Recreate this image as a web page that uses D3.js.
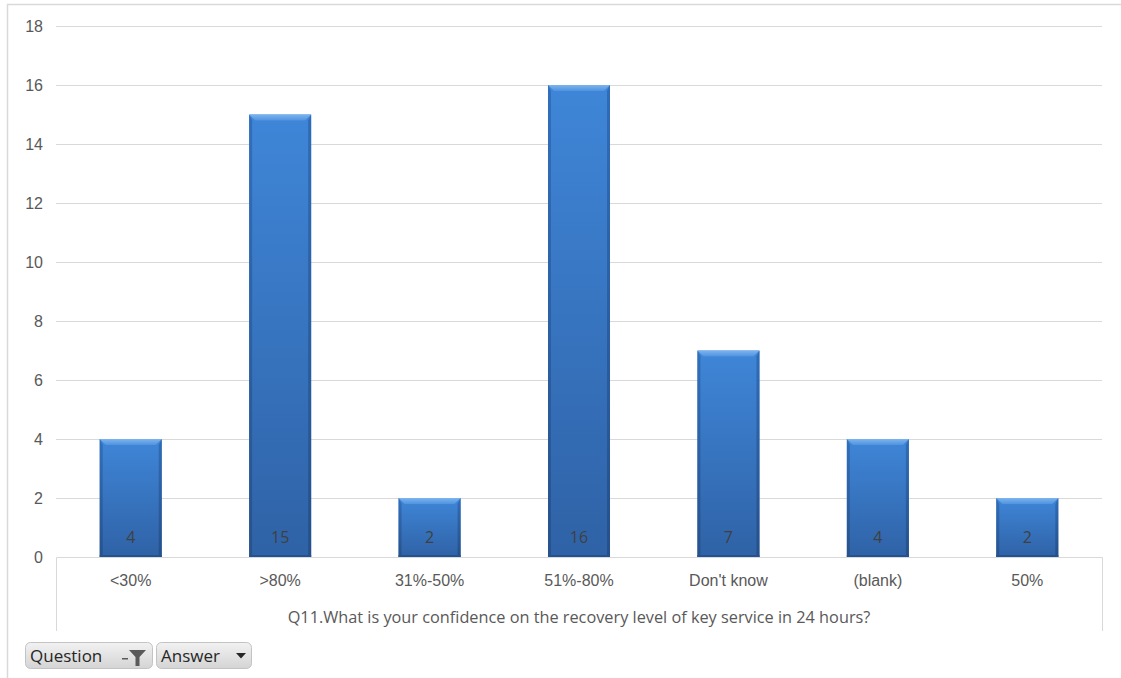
<!DOCTYPE html>
<html>
<head>
<meta charset="utf-8">
<script src="https://cdn.jsdelivr.net/npm/d3@7/dist/d3.min.js"></script>
<style>
  html, body { margin: 0; padding: 0; background: #fff; }
  svg { display: block; font-family: "Open Sans", "Noto Sans", sans-serif; }
</style>
</head>
<body>
<svg id="chart" width="1121" height="678"></svg>
<script>
// Survey answers and their counts
const categories = ["<30%", ">80%", "31%-50%", "51%-80%", "Don't know", "(blank)", "50%"];
const counts = [4, 15, 2, 16, 7, 4, 2];
const yTicks = [0, 2, 4, 6, 8, 10, 12, 14, 16, 18];
const axisTitle = "Q11.What is your confidence on the recovery level of key service in 24 hours?";
const buttons = ["Question", "Answer"];

const svg = d3.select("#chart");
const W = 1121, H = 678;
const plot = { left: 56, right: 1102, top: 26, bottom: 557 };

// Outer chart frame
svg.append("path")
  .attr("d", `M7.5,${H} V4.5 H${W}`)
  .attr("fill", "none").attr("stroke", "#d9d9d9").attr("stroke-width", 1.5);

const x = d3.scaleBand().domain(categories).range([plot.left, plot.right]).paddingInner(0.585).paddingOuter(0.2925);
const y = d3.scaleLinear().domain([0, 18]).range([plot.bottom, plot.top]);

// Gridlines
svg.append("g").selectAll("line").data(yTicks.filter(d => d > 0)).join("line")
  .attr("x1", plot.left).attr("x2", plot.right)
  .attr("y1", d => Math.round(y(d)) + 0.5).attr("y2", d => Math.round(y(d)) + 0.5)
  .attr("stroke", "#d9d9d9").attr("stroke-width", 1);

// Y axis labels
const yAxis = d3.axisLeft(y).tickValues(yTicks).tickSize(0).tickPadding(0);
const gy = svg.append("g").attr("transform", "translate(43,0)").call(yAxis);
gy.select(".domain").remove();
gy.selectAll("text").attr("fill", "#595959").style("font-size", "16px")
  .attr("x", 0).attr("text-anchor", "end").attr("dy", "0.35em");

// Category axis box
svg.append("path")
  .attr("d", `M${plot.left + 0.5},631 V${plot.bottom + 0.5} H${plot.right + 0.5} V631`)
  .attr("fill", "none").attr("stroke", "#d9d9d9").attr("stroke-width", 1);

const xAxis = d3.axisBottom(x).tickSize(0).tickPadding(0);
const gx = svg.append("g").attr("transform", `translate(0,${plot.bottom})`).call(xAxis);
gx.select(".domain").remove();
gx.selectAll("text").attr("fill", "#595959").style("font-size", "16px").attr("y", 23).attr("dy", "0.35em");

svg.append("text")
  .attr("x", (plot.left + plot.right) / 2).attr("y", 617)
  .attr("text-anchor", "middle").attr("dy", "0.35em")
  .attr("fill", "#595959").style("font-size", "16.3px")
  .text(axisTitle);

// Bar gradients
const defs = svg.append("defs");
const g1 = defs.append("linearGradient").attr("id", "barFill").attr("x1", 0).attr("y1", 0).attr("x2", 0).attr("y2", 1);
g1.append("stop").attr("offset", "0%").attr("stop-color", "#3f86d8");
g1.append("stop").attr("offset", "100%").attr("stop-color", "#2f62a6");
const gSide = defs.append("linearGradient").attr("id", "sideFill").attr("x1", 0).attr("y1", 0).attr("x2", 0).attr("y2", 1);
gSide.append("stop").attr("offset", "0%").attr("stop-color", "#2f6bb5");
gSide.append("stop").attr("offset", "100%").attr("stop-color", "#254f88");

const data = categories.map((c, i) => ({ c, v: counts[i] }));
const bw = x.bandwidth();
const bev = 6, side = 3;

const bars = svg.append("g").selectAll("g").data(data).join("g");
bars.append("rect")
  .attr("x", d => x(d.c)).attr("y", d => y(d.v))
  .attr("width", bw).attr("height", d => y(0) - y(d.v))
  .attr("fill", "url(#barFill)");
// left and right shaded edges
bars.append("path")
  .attr("d", d => {
    const x0 = x(d.c), t = y(d.v), b = y(0);
    return `M${x0},${t} L${x0 + side},${t + bev} L${x0 + side},${b} L${x0},${b} Z`;
  })
  .attr("fill", "url(#sideFill)").attr("opacity", 0.85);
bars.append("path")
  .attr("d", d => {
    const x1 = x(d.c) + bw, t = y(d.v), b = y(0);
    return `M${x1},${t} L${x1 - side},${t + bev} L${x1 - side},${b} L${x1},${b} Z`;
  })
  .attr("fill", "url(#sideFill)").attr("opacity", 0.95);
// top bevel highlight
const gTop = defs.append("linearGradient").attr("id", "topFill").attr("x1", 0).attr("y1", 0).attr("x2", 0).attr("y2", 1);
gTop.append("stop").attr("offset", "0%").attr("stop-color", "#7db4ee");
gTop.append("stop").attr("offset", "100%").attr("stop-color", "#4f93e0");
bars.append("path")
  .attr("d", d => {
    const x0 = x(d.c), t = y(d.v);
    return `M${x0},${t} L${x0 + bw},${t} L${x0 + bw - side - 3},${t + bev} L${x0 + side + 3},${t + bev} Z`;
  })
  .attr("fill", "url(#topFill)");
// bottom edge
bars.append("rect")
  .attr("x", d => x(d.c)).attr("y", y(0) - 2)
  .attr("width", bw).attr("height", 2).attr("fill", "#24528e");

// Value labels inside bars
bars.append("text")
  .attr("x", d => x(d.c) + bw / 2).attr("y", 537)
  .attr("text-anchor", "middle").attr("dy", "0.35em")
  .attr("fill", "#404040").style("font-size", "16px")
  .text(d => d.v);

// Field buttons
const btnX = [25, 156], btnW = [128, 96];
const btns = svg.append("g").selectAll("g").data(buttons).join("g")
  .attr("transform", (d, i) => `translate(${btnX[i]},642)`);
const bg = defs.append("linearGradient").attr("id", "btnFill").attr("x1", 0).attr("y1", 0).attr("x2", 0).attr("y2", 1);
bg.append("stop").attr("offset", "0%").attr("stop-color", "#f2f2f2");
bg.append("stop").attr("offset", "100%").attr("stop-color", "#d4d4d4");
btns.append("rect")
  .attr("x", 0.5).attr("y", 0.5).attr("width", (d, i) => btnW[i] - 1).attr("height", 26).attr("rx", 5)
  .attr("fill", "url(#btnFill)").attr("stroke", "#c3c3c3");
btns.append("text")
  .attr("x", 5).attr("y", 14).attr("dy", "0.35em")
  .attr("fill", "#262626").style("font-size", "17px")
  .text(d => d);
// filter icon on first button
btns.filter((d, i) => i === 0).append("path")
  .attr("d", "M97,16 h6 v1.6 h-6 Z M104,8 h17 l-6.5,7 v9 h-4 v-9 Z")
  .attr("fill", "#5a5a5a");
// dropdown arrow on second button
btns.filter((d, i) => i === 1).append("path")
  .attr("d", "M80,11 h10 l-5,5.5 Z")
  .attr("fill", "#262626");
</script>
</body>
</html>
